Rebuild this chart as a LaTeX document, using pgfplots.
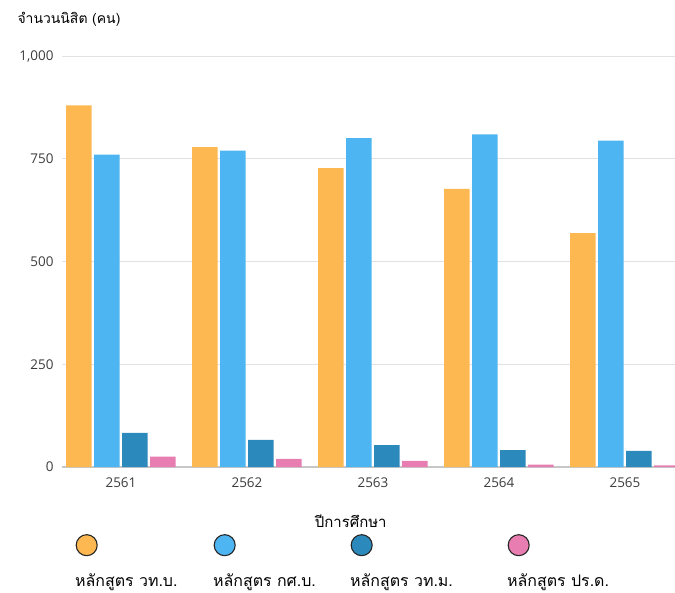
\documentclass[border=0pt]{standalone}
\usepackage{fontspec}
\usepackage{pgfplots}
\pgfplotsset{compat=1.18}
\setmainfont{Open Sans}
\newfontfamily\thaifont[Script=Thai]{Loma}

\definecolor{cBsc}{RGB}{253,184,82}
\definecolor{cBed}{RGB}{77,181,242}
\definecolor{cMsc}{RGB}{44,137,187}
\definecolor{cPhd}{RGB}{231,125,176}
\definecolor{gridgray}{RGB}{226,226,226}
\definecolor{ticktext}{RGB}{60,60,60}

% legend key: a ringed dot drawn above the start of its entry text
\pgfplotsset{circle legend/.style={legend image code/.code={%
  \path (0,0);
  \draw[##1, overlay, draw=black!85, line width=1.1pt] (11.5bp,41bp) circle (10.5bp);}}}

\begin{document}
\begin{tikzpicture}
\begin{axis}[
  scale only axis,
  width=613bp, height=411bp,
  ybar=2.5bp, bar width=25.5bp,
  xmin=-0.468, xmax=4.397,
  ymin=0, ymax=1000,
  xtick={0,1,2,3,4},
  xticklabels={2561,2562,2563,2564,2565},
  ytick={0,250,500,750,1000},
  /pgf/number format/assume math mode=true,
  /pgf/number format/1000 sep={,},
  major tick length=0pt,
  tick label style={font=\fontsize{13.5}{16}\selectfont, text=ticktext},
  xticklabel style={yshift=-7bp},
  yticklabel style={xshift=-5bp},
  ymajorgrids,
  grid style={draw=gridgray, line width=0.9pt},
  axis x line*=bottom, axis y line*=left,
  x axis line style={draw=black!22, line width=1.3pt, -},
  y axis line style={draw=none},
  every axis y label/.style={at={(axis description cs:-0.0783,1.0779)}, anchor=base west},
  every axis x label/.style={at={(axis description cs:0.471,-0.146)}, anchor=base},
  ylabel={\thaifont\fontsize{14}{16}\selectfont จำนวนนิสิต (คน)},
  xlabel={\thaifont\fontsize{15}{17}\selectfont ปีการศึกษา},
  every axis plot post/.append style={circle legend},
  legend columns=4,
  legend style={at={(axis description cs:0.0212,-0.290)}, anchor=west,
    draw=none, fill=none, inner sep=0pt, column sep=0pt,
    nodes={inner sep=0pt, text height=0pt, text depth=0pt, anchor=base west},
    font=\thaifont\fontsize{16}{18}\selectfont},
]
\addplot[fill=cBsc, draw=none] coordinates {(0,880) (1,778) (2,727) (3,677) (4,569)};
\addplot[fill=cBed, draw=none] coordinates {(0,760) (1,770) (2,800) (3,809) (4,794)};
\addplot[fill=cMsc, draw=none] coordinates {(0,83) (1,66) (2,53) (3,41) (4,39)};
\addplot[fill=cPhd, draw=none] coordinates {(0,25) (1,20) (2,15) (3,6) (4,4)};
\legend{\makebox[138bp][l]{หลักสูตร วท.บ.},
        \makebox[137bp][l]{หลักสูตร กศ.บ.},
        \makebox[157bp][l]{หลักสูตร วท.ม.},
        หลักสูตร ปร.ด.}
\end{axis}
\pgfresetboundingbox
\path ([xshift=-62bp,yshift=-126bp]current axis.south west) rectangle ([yshift=56bp]current axis.north east);
\end{tikzpicture}
\end{document}
